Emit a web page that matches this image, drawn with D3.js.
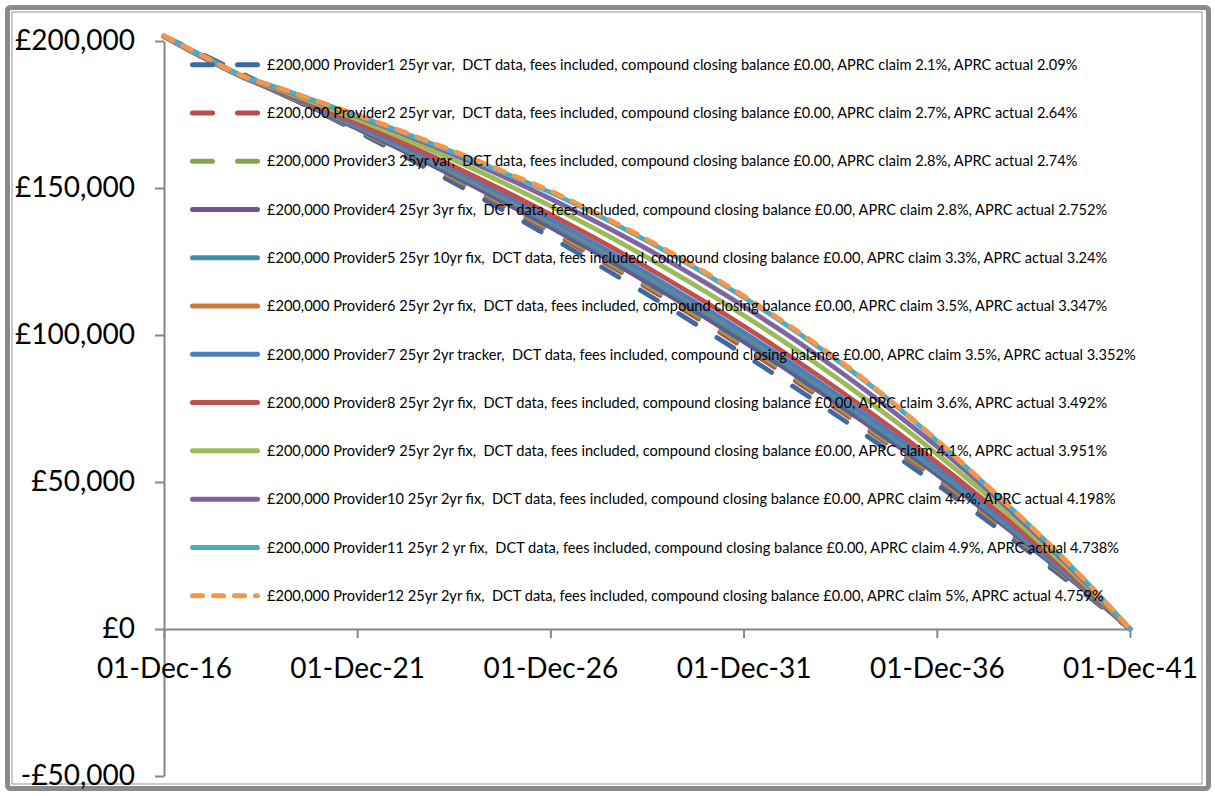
<!DOCTYPE html>
<html>
<head>
<meta charset="utf-8">
<script src="https://cdn.jsdelivr.net/npm/d3@7"></script>
<style>
  body { margin: 0; background: #fff; }
  svg { display: block; }
</style>
</head>
<body>
<svg id="chart" width="1215" height="796"></svg>
<script>
// Statement dates, one per year of the 25-year term
const statementDates = [
  "2016-12-01","2017-12-01","2018-12-01","2019-12-01","2020-12-01","2021-12-01",
  "2022-12-01","2023-12-01","2024-12-01","2025-12-01","2026-12-01","2027-12-01",
  "2028-12-01","2029-12-01","2030-12-01","2031-12-01","2032-12-01","2033-12-01",
  "2034-12-01","2035-12-01","2036-12-01","2037-12-01","2038-12-01","2039-12-01",
  "2040-12-01","2041-12-01"
];

const xTickDates = ["2016-12-01","2021-12-01","2026-12-01","2031-12-01","2036-12-01","2041-12-01"];
const yTickValues = [-50000, 0, 50000, 100000, 150000, 200000];

const seriesNames = [
  "£200,000 Provider1 25yr var,  DCT data, fees included, compound closing balance £0.00, APRC claim 2.1%, APRC actual 2.09%",
  "£200,000 Provider2 25yr var,  DCT data, fees included, compound closing balance £0.00, APRC claim 2.7%, APRC actual 2.64%",
  "£200,000 Provider3 25yr var,  DCT data, fees included, compound closing balance £0.00, APRC claim 2.8%, APRC actual 2.74%",
  "£200,000 Provider4 25yr 3yr fix,  DCT data, fees included, compound closing balance £0.00, APRC claim 2.8%, APRC actual 2.752%",
  "£200,000 Provider5 25yr 10yr fix,  DCT data, fees included, compound closing balance £0.00, APRC claim 3.3%, APRC actual 3.24%",
  "£200,000 Provider6 25yr 2yr fix,  DCT data, fees included, compound closing balance £0.00, APRC claim 3.5%, APRC actual 3.347%",
  "£200,000 Provider7 25yr 2yr tracker,  DCT data, fees included, compound closing balance £0.00, APRC claim 3.5%, APRC actual 3.352%",
  "£200,000 Provider8 25yr 2yr fix,  DCT data, fees included, compound closing balance £0.00, APRC claim 3.6%, APRC actual 3.492%",
  "£200,000 Provider9 25yr 2yr fix,  DCT data, fees included, compound closing balance £0.00, APRC claim 4.1%, APRC actual 3.951%",
  "£200,000 Provider10 25yr 2yr fix,  DCT data, fees included, compound closing balance £0.00, APRC claim 4.4%, APRC actual 4.198%",
  "£200,000 Provider11 25yr 2 yr fix,  DCT data, fees included, compound closing balance £0.00, APRC claim 4.9%, APRC actual 4.738%",
  "£200,000 Provider12 25yr 2yr fix,  DCT data, fees included, compound closing balance £0.00, APRC claim 5%, APRC actual 4.759%"
];

// Closing balance (£) at each statement date
const provider1  = [201600,195400,189060,182590,175980,169240,162350,155320,148130,140800,133310,125660,117850,109880,101740,93420,84930,76260,67410,58370,49140,39720,30090,20260,10230,0];
const provider2  = [201600,195120,188590,182400,176150,169760,163190,156450,149540,142440,135160,127700,120030,112160,104100,95800,87300,78580,69630,60440,51010,41330,31400,21200,10740,0];
const provider3  = [201600,195020,188410,182330,176220,169940,163500,156860,150050,143040,135840,128440,120820,112990,104950,96680,88170,79420,70440,61200,51690,41920,31870,21540,10920,0];
const provider4  = [201600,194900,188200,182240,176300,170180,163880,157380,150690,143790,136680,129360,121810,114030,106020,97760,89250,80480,71450,62140,52540,42650,32460,21960,11150,0];
const provider5  = [201600,194800,188000,182450,176700,170770,164640,158310,151760,144990,138000,130770,123300,115570,107600,99350,90820,82010,72900,63500,53770,43710,33320,22570,11470,0];
const provider6  = [201500,194400,187900,182520,176950,171170,165170,158980,152560,145890,139010,131880,124480,116820,108890,100670,92150,83320,74170,64690,54860,44660,34100,23140,11770,0];
const provider7  = [201500,194500,188000,182650,177110,171360,165400,159230,152830,146180,139310,132180,124780,117110,109170,100930,92390,83540,74360,64850,54990,44760,34170,23180,11790,0];
const provider8  = [201600,194500,188000,182920,177620,172120,166390,160440,154210,147750,141020,134020,126740,119150,111260,103050,94490,85590,76330,66690,56660,46220,35340,24030,12260,0];
const provider9  = [201600,194600,188000,183350,178490,173380,168040,162430,156550,150400,143940,137180,130080,122650,114860,106700,98140,89170,79770,69920,59590,48770,37420,25530,13070,0];
const provider10 = [201700,194700,188000,183710,179180,174410,169370,164070,158470,152570,146350,139790,132880,125590,117890,109790,101240,92220,82720,72690,62120,50980,39230,26840,13770,0];
const provider11 = [201700,194900,188200,183850,179200,174650,169800,164750,159500,154050,148500,142200,135500,128400,120870,112860,104360,95350,85790,75300,64000,52200,40150,27600,14250,0];
const provider12 = [201800,195000,188300,184000,179400,174900,170100,165100,159900,154500,149000,142700,136000,128900,121370,113340,104810,95760,86150,75500,64300,52400,40300,27700,14300,0];

const seriesValues = [provider1, provider2, provider3, provider4, provider5, provider6,
                      provider7, provider8, provider9, provider10, provider11, provider12];

const seriesColors = ["#3d6aa1","#be4b48","#86a44a","#6e5490","#3d91a6","#cc7a3a",
                      "#4a7ec0","#c0504d","#9bbb59","#8064a2","#4bacc6","#f79646"];
const seriesDash = ["20,25","20,25","20,25",null,null,null,null,null,null,null,null,"10,11"];

const parseDate = d3.timeParse("%Y-%m-%d");
const svg = d3.select("#chart");

// Chart frame
svg.append("rect")
  .attr("x", 7.5).attr("y", 7.5).attr("width", 1201).attr("height", 781)
  .attr("rx", 3).attr("fill", "#fff").attr("stroke", "#8a8a8a").attr("stroke-width", 5);
svg.append("rect")
  .attr("x", 12).attr("y", 12).attr("width", 1190).attr("height", 772)
  .attr("fill", "none").attr("stroke", "#a6a6a6").attr("stroke-width", 1.2);

const x = d3.scaleTime()
  .domain([parseDate("2016-12-01"), parseDate("2041-12-01")])
  .range([164, 1130]);
const y = d3.scaleLinear()
  .domain([-50000, 200000])
  .range([776, 41]);

const axisColor = "#868686";
const tickFont = "Lato, 'Open Sans', sans-serif";

// Value axis
const yAxis = svg.append("g")
  .attr("transform", `translate(${x.range()[0]},0)`)
  .call(d3.axisLeft(y)
    .tickValues(yTickValues)
    .tickSize(9)
    .tickSizeOuter(0)
    .tickPadding(20)
    .tickFormat(v => (v < 0 ? "-£" : "£") + d3.format(",")(Math.abs(v))));

// Date axis crossing at zero
const xAxis = svg.append("g")
  .attr("transform", `translate(0,${y(0)})`)
  .call(d3.axisBottom(x)
    .tickValues(xTickDates.map(parseDate))
    .tickSize(9)
    .tickSizeOuter(0)
    .tickPadding(20)
    .tickFormat(d3.timeFormat("%d-%b-%y")));

[yAxis, xAxis].forEach(g => {
  g.selectAll("path.domain").attr("stroke", axisColor).attr("stroke-width", 2);
  g.selectAll(".tick line").attr("stroke", axisColor).attr("stroke-width", 2);
  g.selectAll(".tick text")
    .attr("fill", "#000")
    .style("font-family", tickFont)
    .style("font-size", "28px");
});

// Balance lines
const line = d3.line()
  .x((d, i) => x(parseDate(statementDates[i])))
  .y(d => y(d))
  .curve(d3.curveMonotoneX);

const lines = svg.append("g");
seriesValues.forEach((vals, i) => {
  lines.append("path")
    .attr("d", line(vals))
    .attr("fill", "none")
    .attr("stroke", seriesColors[i])
    .attr("stroke-width", 4.8)
    .attr("stroke-linecap", "round")
    .attr("stroke-linejoin", "round")
    .attr("stroke-dasharray", seriesDash[i]);
});

// Legend
const legend = svg.append("g");
const rowTop = 64.7, rowStep = 48.27;
const legendTexts = [];
seriesNames.forEach((name, i) => {
  const ry = rowTop + i * rowStep;
  legend.append("line")
    .attr("x1", 192.5).attr("x2", 257.5)
    .attr("y1", ry).attr("y2", ry)
    .attr("stroke", seriesColors[i])
    .attr("stroke-width", 5)
    .attr("stroke-linecap", "round")
    .attr("stroke-dasharray", seriesDash[i]);
  const t = legend.append("text")
    .attr("x", 267).attr("y", ry)
    .attr("dy", "0.36em")
    .attr("fill", "#000")
    .style("font-family", tickFont)
    .style("font-size", "13px")
    .style("white-space", "pre")
    .attr("xml:space", "preserve")
    .text(name);
  legendTexts.push(t);
});

// Size legend type so the first entry runs to x = 1078
const firstWidth = legendTexts[0].node().getComputedTextLength();
const legendSize = 13 * (1078 - 267) / firstWidth;
legendTexts.forEach(t => t.style("font-size", legendSize + "px"));
</script>
</body>
</html>
